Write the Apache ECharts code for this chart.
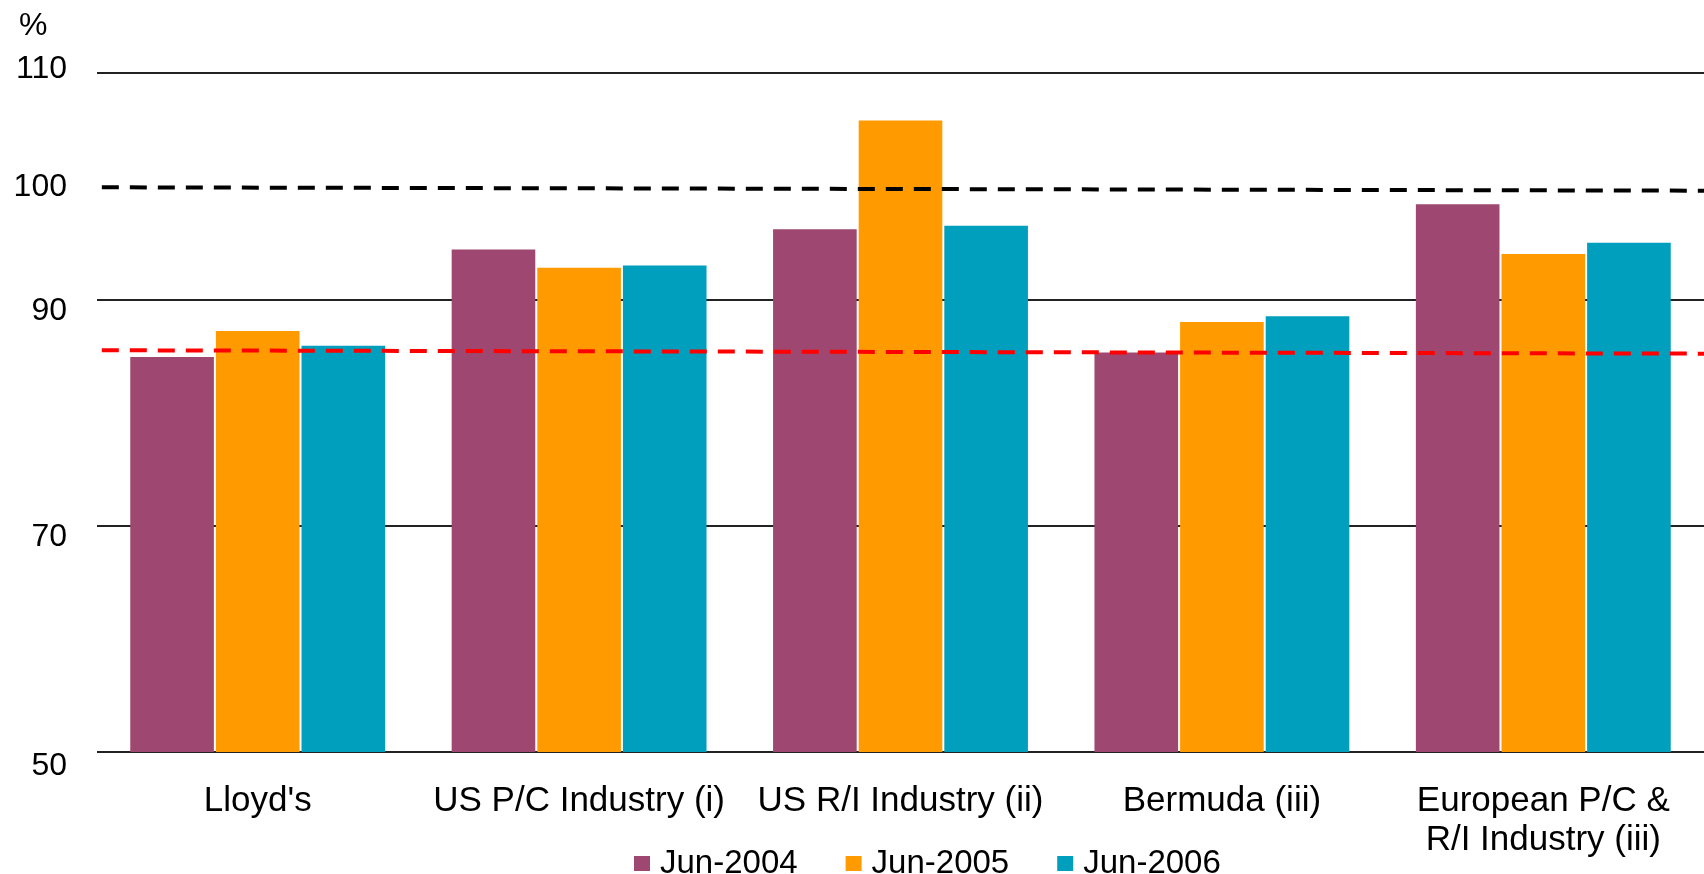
<!DOCTYPE html>
<html>
<head>
<meta charset="utf-8">
<title>Combined ratio comparison</title>
<script src="https://cdn.jsdelivr.net/npm/echarts@6/dist/echarts.min.js"></script>
<style>
    html, body { margin: 0; padding: 0; background: #fff; }
    #chart_ratio { width: 1704px; height: 874px; }
</style>
</head>
<body>
<div id="chart_ratio"></div>
<script>
// chart data
var categories = ["Lloyd's", 'US P/C Industry (i)', 'US R/I Industry (ii)', 'Bermuda (iii)', 'European P/C &\nR/I Industry (iii)'];
var seriesNames = ['Jun-2004', 'Jun-2005', 'Jun-2006'];
var jun2004 = [84.9, 94.4, 96.2, 85.3, 98.4];
var jun2005 = [87.2, 92.8, 105.8, 88.0, 94.0];
var jun2006 = [85.9, 93.0, 96.5, 88.5, 95.0];
var yTickLabels = [50, 70, 90, 100, 110];
// hand drawn reference lines: [x position along chart (0-100), value]
var breakEvenLine = [[0.3, 99.9], [100, 99.6]];
var averageLine = [[0.3, 85.5], [100, 85.2]];

var ChartModule = (function () {
    var chartDom = document.getElementById('chart_ratio');
    var chartInstance = echarts.init(chartDom);
    var fontFamily = '"Liberation Sans", Arial, sans-serif';

    // nudges for the y labels, they sit a bit off their lines in the original
    var labelRich = {
        l50: { fontSize: 32, color: '#000', fontFamily: fontFamily, padding: [28, 0, 0, 0] },
        l70: { fontSize: 32, color: '#000', fontFamily: fontFamily, padding: [24, 0, 0, 0] },
        l90: { fontSize: 32, color: '#000', fontFamily: fontFamily, padding: [24, 0, 0, 0] },
        l100: { fontSize: 32, color: '#000', fontFamily: fontFamily, padding: [3, 0, 0, 0] },
        l110: { fontSize: 32, color: '#000', fontFamily: fontFamily, padding: [0, 0, 7, 0] }
    };

    function barSeries(name, data, color) {
        return {
            name: name,
            type: 'bar',
            barCategoryGap: '20.7%',
            barGap: '2.4%',
            itemStyle: { color: color },
            data: data
        };
    }

    function dashedSeries(name, data, color, dash) {
        return {
            name: name,
            type: 'line',
            xAxisIndex: 1,
            z: 5,
            symbol: 'none',
            silent: true,
            lineStyle: { color: color, width: 4, type: dash },
            data: data
        };
    }

    function getChartOption() {
        return {
            animation: false,
            textStyle: { fontFamily: fontFamily },
            title: {
                text: '%',
                left: 14,
                top: 5,
                textStyle: { fontSize: 32, fontWeight: 'normal', color: '#000', fontFamily: fontFamily }
            },
            grid: { left: 97, right: -3, top: 73, bottom: 122 },
            legend: {
                data: seriesNames,
                left: 629,
                top: 842,
                icon: 'rect',
                itemWidth: 16,
                itemHeight: 15,
                itemGap: 48,
                textStyle: { fontSize: 33, color: '#000', fontFamily: fontFamily, padding: [0, 0, 0, 5] }
            },
            xAxis: [{
                type: 'category',
                data: categories,
                axisTick: { show: false },
                axisLine: { show: false },
                axisLabel: {
                    interval: 0,
                    margin: 30,
                    fontSize: 35,
                    lineHeight: 39,
                    color: '#000',
                    fontFamily: fontFamily
                }
            }, {
                type: 'value',
                min: 0,
                max: 100,
                show: false
            }],
            yAxis: {
                type: 'value',
                min: 50,
                max: 110,
                interval: 10,
                axisLine: { show: false },
                axisTick: { show: false },
                axisLabel: {
                    margin: 30,
                    formatter: function (v) {
                        if (yTickLabels.indexOf(v) === -1) return '';
                        return '{l' + v + '|' + v + '}';
                    },
                    rich: labelRich
                },
                splitLine: {
                    show: true,
                    lineStyle: { color: ['#222', 'rgba(0,0,0,0)'], width: 2 }
                }
            },
            series: [
                barSeries(seriesNames[0], jun2004, '#9e4770'),
                barSeries(seriesNames[1], jun2005, '#ff9a00'),
                barSeries(seriesNames[2], jun2006, '#009fbd'),
                dashedSeries('breakEven', breakEvenLine, '#000', [17, 11]),
                dashedSeries('average', averageLine, '#ff0000', [17, 11])
            ]
        };
    }

    function run() {
        chartInstance.setOption(getChartOption());
    }

    return { run: run };
})();

ChartModule.run();
</script>
</body>
</html>
